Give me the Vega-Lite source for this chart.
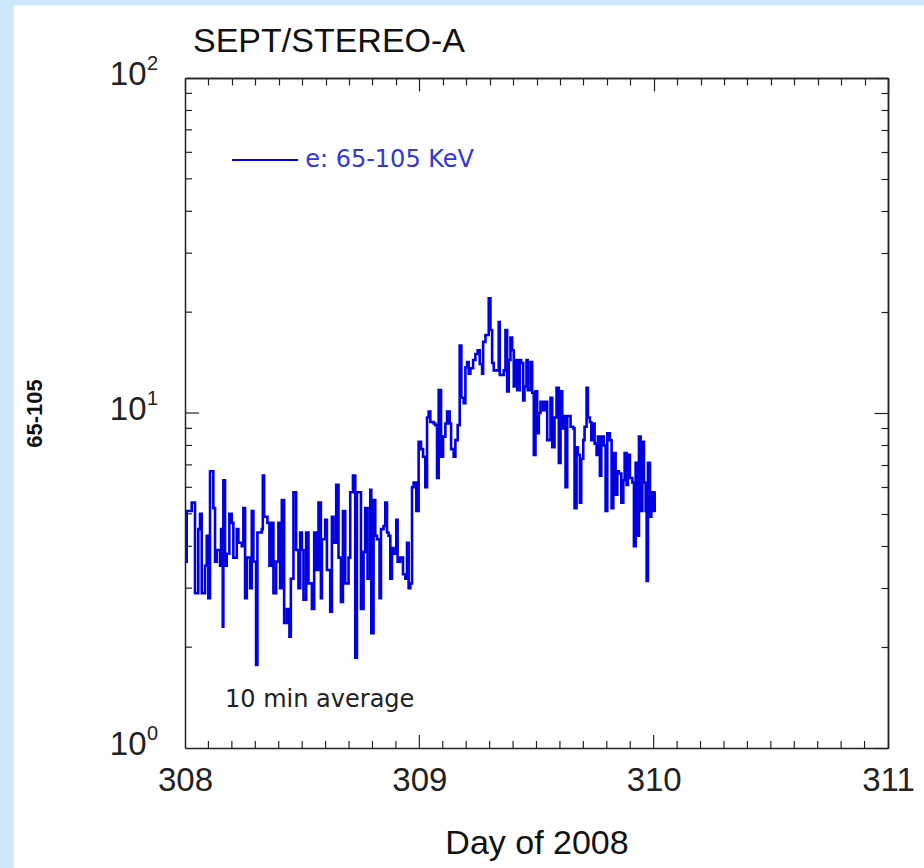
{
  "$schema": "https://vega.github.io/schema/vega-lite/v6.json",
  "width": 703,
  "height": 670,
  "autosize": {"type": "none"},
  "padding": {"left": 185, "top": 78, "right": 36, "bottom": 120},
  "background": "#cde7fc",
  "config": {
    "view": {"stroke": null},
    "axis": {"grid": false, "domainColor": "#222222", "domainWidth": 1.5, "tickColor": "#222222", "tickWidth": 1.2, "labelColor": "#222222", "labelFont": "Liberation Sans", "labelFontSize": 33, "labelOverlap": false, "labelFlush": false, "titleColor": "#111111"}
  },
  "datasets": {
    "flux": [
      {"d": 308.0000, "v": 3.6}, {"d": 308.0073, "v": 5.1}, {"d": 308.0286, "v": 5.4}, {"d": 308.0427, "v": 2.9},
      {"d": 308.0568, "v": 4.5}, {"d": 308.0641, "v": 5.0}, {"d": 308.0714, "v": 2.9}, {"d": 308.0855, "v": 3.5},
      {"d": 308.0927, "v": 4.3}, {"d": 308.0996, "v": 2.8}, {"d": 308.1068, "v": 6.7}, {"d": 308.1209, "v": 5.2},
      {"d": 308.1282, "v": 3.6}, {"d": 308.1355, "v": 3.9}, {"d": 308.1496, "v": 3.5}, {"d": 308.1538, "v": 4.5},
      {"d": 308.1611, "v": 2.3}, {"d": 308.1637, "v": 6.3}, {"d": 308.1709, "v": 3.5}, {"d": 308.1782, "v": 3.8},
      {"d": 308.1893, "v": 5.0}, {"d": 308.1996, "v": 4.7}, {"d": 308.2064, "v": 3.7}, {"d": 308.2209, "v": 4.5},
      {"d": 308.2278, "v": 4.1}, {"d": 308.2423, "v": 4.0}, {"d": 308.2491, "v": 5.2}, {"d": 308.2564, "v": 2.8},
      {"d": 308.2637, "v": 3.7}, {"d": 308.2778, "v": 3.0}, {"d": 308.2850, "v": 5.1}, {"d": 308.2919, "v": 3.6},
      {"d": 308.3034, "v": 1.77}, {"d": 308.3090, "v": 4.4}, {"d": 308.3278, "v": 4.5}, {"d": 308.3321, "v": 6.5},
      {"d": 308.3376, "v": 4.9}, {"d": 308.3517, "v": 4.7}, {"d": 308.3603, "v": 3.5}, {"d": 308.3705, "v": 4.7},
      {"d": 308.3774, "v": 2.9}, {"d": 308.3889, "v": 3.6}, {"d": 308.3987, "v": 4.7}, {"d": 308.4060, "v": 3.0},
      {"d": 308.4132, "v": 5.5}, {"d": 308.4231, "v": 2.36}, {"d": 308.4346, "v": 2.6}, {"d": 308.4457, "v": 2.15},
      {"d": 308.4517, "v": 3.2}, {"d": 308.4628, "v": 5.8}, {"d": 308.4744, "v": 3.9}, {"d": 308.4842, "v": 3.0},
      {"d": 308.4915, "v": 4.4}, {"d": 308.4987, "v": 3.9}, {"d": 308.5056, "v": 2.77}, {"d": 308.5171, "v": 4.4},
      {"d": 308.5269, "v": 3.1}, {"d": 308.5415, "v": 2.6}, {"d": 308.5513, "v": 4.4}, {"d": 308.5598, "v": 3.4},
      {"d": 308.5697, "v": 5.4}, {"d": 308.5799, "v": 2.8}, {"d": 308.5842, "v": 4.2}, {"d": 308.5983, "v": 4.8},
      {"d": 308.6056, "v": 3.4}, {"d": 308.6197, "v": 2.55}, {"d": 308.6269, "v": 4.9}, {"d": 308.6338, "v": 4.1},
      {"d": 308.6453, "v": 6.1}, {"d": 308.6551, "v": 3.7}, {"d": 308.6654, "v": 2.73}, {"d": 308.6739, "v": 5.1},
      {"d": 308.6838, "v": 3.1}, {"d": 308.6979, "v": 3.7}, {"d": 308.7051, "v": 5.8}, {"d": 308.7167, "v": 6.5},
      {"d": 308.7265, "v": 1.86}, {"d": 308.7338, "v": 5.8}, {"d": 308.7509, "v": 2.6}, {"d": 308.7620, "v": 3.85},
      {"d": 308.7692, "v": 5.2}, {"d": 308.7791, "v": 3.2}, {"d": 308.7906, "v": 5.9}, {"d": 308.7949, "v": 2.2},
      {"d": 308.8047, "v": 5.5}, {"d": 308.8120, "v": 4.3}, {"d": 308.8192, "v": 4.2}, {"d": 308.8303, "v": 2.8},
      {"d": 308.8363, "v": 4.5}, {"d": 308.8474, "v": 4.6}, {"d": 308.8547, "v": 5.4}, {"d": 308.8620, "v": 4.4},
      {"d": 308.8688, "v": 4.3}, {"d": 308.8761, "v": 3.2}, {"d": 308.8833, "v": 3.95}, {"d": 308.8902, "v": 3.8},
      {"d": 308.9017, "v": 4.8}, {"d": 308.9073, "v": 3.6}, {"d": 308.9188, "v": 3.7}, {"d": 308.9303, "v": 3.3},
      {"d": 308.9402, "v": 3.2}, {"d": 308.9474, "v": 4.1}, {"d": 308.9543, "v": 3.0}, {"d": 308.9615, "v": 3.1},
      {"d": 308.9688, "v": 6.0}, {"d": 308.9756, "v": 6.2}, {"d": 308.9872, "v": 5.1}, {"d": 308.9970, "v": 8.2},
      {"d": 309.0073, "v": 7.8}, {"d": 309.0158, "v": 7.4}, {"d": 309.0256, "v": 6.0}, {"d": 309.0329, "v": 9.7},
      {"d": 309.0397, "v": 10.1}, {"d": 309.0470, "v": 9.4}, {"d": 309.0611, "v": 9.3}, {"d": 309.0684, "v": 9.2},
      {"d": 309.0756, "v": 6.4}, {"d": 309.0825, "v": 11.7}, {"d": 309.0927, "v": 7.4}, {"d": 309.1013, "v": 8.5},
      {"d": 309.1111, "v": 9.3}, {"d": 309.1184, "v": 10.1}, {"d": 309.1295, "v": 9.3}, {"d": 309.1355, "v": 7.8},
      {"d": 309.1466, "v": 7.4}, {"d": 309.1538, "v": 8.3}, {"d": 309.1637, "v": 9.2}, {"d": 309.1722, "v": 15.9},
      {"d": 309.1795, "v": 11.1}, {"d": 309.1893, "v": 10.7}, {"d": 309.1966, "v": 13.7}, {"d": 309.2038, "v": 14.2},
      {"d": 309.2107, "v": 13.1}, {"d": 309.2179, "v": 13.6}, {"d": 309.2295, "v": 14.4}, {"d": 309.2393, "v": 15.0},
      {"d": 309.2491, "v": 15.4}, {"d": 309.2577, "v": 14.0}, {"d": 309.2679, "v": 13.1}, {"d": 309.2722, "v": 16.3},
      {"d": 309.2821, "v": 17.1}, {"d": 309.2962, "v": 22.0}, {"d": 309.3034, "v": 17.7}, {"d": 309.3107, "v": 14.1},
      {"d": 309.3175, "v": 13.4}, {"d": 309.3389, "v": 18.7}, {"d": 309.3432, "v": 13.0}, {"d": 309.3603, "v": 13.4},
      {"d": 309.3675, "v": 17.7}, {"d": 309.3748, "v": 11.6}, {"d": 309.3816, "v": 14.4}, {"d": 309.3889, "v": 16.8},
      {"d": 309.3962, "v": 15.4}, {"d": 309.4030, "v": 12.0}, {"d": 309.4115, "v": 14.4}, {"d": 309.4175, "v": 11.7},
      {"d": 309.4286, "v": 14.4}, {"d": 309.4346, "v": 14.1}, {"d": 309.4432, "v": 10.9}, {"d": 309.4487, "v": 12.0},
      {"d": 309.4573, "v": 14.4}, {"d": 309.4628, "v": 11.7}, {"d": 309.4744, "v": 14.2}, {"d": 309.4816, "v": 11.5},
      {"d": 309.4885, "v": 7.5}, {"d": 309.4957, "v": 11.6}, {"d": 309.5030, "v": 8.7}, {"d": 309.5098, "v": 10.0},
      {"d": 309.5171, "v": 10.8}, {"d": 309.5286, "v": 10.2}, {"d": 309.5385, "v": 10.8}, {"d": 309.5457, "v": 8.3},
      {"d": 309.5598, "v": 11.1}, {"d": 309.5671, "v": 7.9}, {"d": 309.5769, "v": 9.7}, {"d": 309.5855, "v": 11.9},
      {"d": 309.5953, "v": 7.1}, {"d": 309.6026, "v": 11.6}, {"d": 309.6098, "v": 9.0}, {"d": 309.6167, "v": 9.8},
      {"d": 309.6239, "v": 6.0}, {"d": 309.6312, "v": 9.8}, {"d": 309.6453, "v": 9.1}, {"d": 309.6568, "v": 9.0},
      {"d": 309.6624, "v": 5.2}, {"d": 309.6709, "v": 7.9}, {"d": 309.6765, "v": 7.5}, {"d": 309.6850, "v": 5.4},
      {"d": 309.6910, "v": 7.3}, {"d": 309.6996, "v": 8.3}, {"d": 309.7051, "v": 9.1}, {"d": 309.7137, "v": 11.9},
      {"d": 309.7192, "v": 9.7}, {"d": 309.7278, "v": 9.4}, {"d": 309.7338, "v": 8.3}, {"d": 309.7423, "v": 9.3},
      {"d": 309.7479, "v": 8.1}, {"d": 309.7564, "v": 7.5}, {"d": 309.7620, "v": 8.5}, {"d": 309.7705, "v": 6.5},
      {"d": 309.7765, "v": 8.5}, {"d": 309.7876, "v": 8.0}, {"d": 309.7949, "v": 5.1}, {"d": 309.8021, "v": 8.7},
      {"d": 309.8132, "v": 8.3}, {"d": 309.8205, "v": 5.2}, {"d": 309.8278, "v": 7.6}, {"d": 309.8376, "v": 5.7},
      {"d": 309.8449, "v": 6.7}, {"d": 309.8517, "v": 6.6}, {"d": 309.8620, "v": 5.4}, {"d": 309.8705, "v": 6.3},
      {"d": 309.8761, "v": 7.6}, {"d": 309.8846, "v": 6.1}, {"d": 309.8902, "v": 7.5}, {"d": 309.8987, "v": 6.4},
      {"d": 309.9090, "v": 6.2}, {"d": 309.9158, "v": 4.0}, {"d": 309.9231, "v": 7.1}, {"d": 309.9303, "v": 4.3},
      {"d": 309.9372, "v": 8.5}, {"d": 309.9444, "v": 5.1}, {"d": 309.9517, "v": 8.2}, {"d": 309.9585, "v": 6.2},
      {"d": 309.9658, "v": 5.1}, {"d": 309.9701, "v": 3.15}, {"d": 309.9756, "v": 7.1}, {"d": 309.9842, "v": 4.9},
      {"d": 309.9902, "v": 5.8}, {"d": 309.9987, "v": 5.1}, {"d": 310.0043, "v": 5.8}, {"d": 310.0085, "v": 5.8}
    ],
    "decades": [
      {"v": 1, "e": "0"}, {"v": 10, "e": "1"}, {"v": 100, "e": "2"}
    ],
    "dayTenths": [
      {"t": 308.1}, {"t": 308.2}, {"t": 308.3}, {"t": 308.4}, {"t": 308.5}, {"t": 308.6}, {"t": 308.7}, {"t": 308.8}, {"t": 308.9},
      {"t": 309.1}, {"t": 309.2}, {"t": 309.3}, {"t": 309.4}, {"t": 309.5}, {"t": 309.6}, {"t": 309.7}, {"t": 309.8}, {"t": 309.9},
      {"t": 310.1}, {"t": 310.2}, {"t": 310.3}, {"t": 310.4}, {"t": 310.5}, {"t": 310.6}, {"t": 310.7}, {"t": 310.8}, {"t": 310.9}
    ],
    "logMinor": [
      {"t": 2}, {"t": 3}, {"t": 4}, {"t": 5}, {"t": 6}, {"t": 7}, {"t": 8}, {"t": 9},
      {"t": 20}, {"t": 30}, {"t": 40}, {"t": 50}, {"t": 60}, {"t": 70}, {"t": 80}, {"t": 90}
    ]
  },
  "layer": [
    {
      "data": {"values": [{}]},
      "mark": {"type": "rect", "color": "white"},
      "encoding": {
        "x": {"datum": 307.2692, "type": "quantitative", "scale": {"domain": [308, 311]}, "axis": null},
        "x2": {"datum": 311.6},
        "y": {"datum": 165.1, "type": "quantitative", "scale": {"type": "log", "domain": [1, 100]}, "axis": null},
        "y2": {"datum": 0.3}
      }
    },
    {
      "data": {"name": "dayTenths"},
      "mark": {"type": "rule", "color": "#222222", "strokeWidth": 1.2},
      "encoding": {
        "x": {"field": "t", "type": "quantitative", "axis": null},
        "y": {"datum": 1, "type": "quantitative", "axis": null},
        "y2": {"datum": 1.049}
      }
    },
    {
      "data": {"values": [{"t": 309}, {"t": 310}]},
      "mark": {"type": "rule", "color": "#222222", "strokeWidth": 1.2},
      "encoding": {
        "x": {"field": "t", "type": "quantitative", "axis": null},
        "y": {"datum": 1, "type": "quantitative", "axis": null},
        "y2": {"datum": 1.0934}
      }
    },
    {
      "data": {"name": "logMinor"},
      "mark": {"type": "rule", "color": "#222222", "strokeWidth": 1.2},
      "encoding": {
        "y": {"field": "t", "type": "quantitative", "axis": null},
        "x": {"datum": 308, "type": "quantitative", "axis": null},
        "x2": {"datum": 308.0299}
      }
    },
    {
      "data": {"values": [{"t": 10}]},
      "mark": {"type": "rule", "color": "#222222", "strokeWidth": 1.2},
      "encoding": {
        "y": {"field": "t", "type": "quantitative", "axis": null},
        "x": {"datum": 308, "type": "quantitative", "axis": null},
        "x2": {"datum": 308.0598}
      }
    },
    {
      "data": {"name": "flux"},
      "mark": {"type": "line", "interpolate": "step-after", "color": "#0000e0", "strokeWidth": 2.6},
      "encoding": {
        "x": {
          "field": "d", "type": "quantitative",
          "scale": {"domain": [308, 311]},
          "axis": {
            "orient": "bottom",
            "zindex": 1,
            "values": [308, 309, 310, 311],
            "format": "d",
            "ticks": false,
            "tickSize": 0,
            "labelPadding": 16,
            "title": "Day of 2008",
            "titleFont": "Liberation Sans",
            "titleFontSize": 34,
            "titleFontWeight": "normal",
            "titleY": 105,
            "titleBaseline": "alphabetic"
          }
        },
        "y": {
          "field": "v", "type": "quantitative",
          "scale": {"type": "log", "domain": [1, 100]},
          "axis": {
            "orient": "left",
            "zindex": 1,
            "values": [1, 10, 100],
            "labelExpr": "'10'",
            "ticks": false,
            "tickSize": 0,
            "labelPadding": 39,
            "labelBaseline": "middle",
            "labelOffset": -4,
            "title": "65-105",
            "titleFont": "Liberation Sans",
            "titleFontSize": 22,
            "titleFontWeight": "bold",
            "titleX": -151,
            "titleBaseline": "middle"
          }
        }
      }
    },
    {
      "data": {"values": [{"d0": 308.2009, "d1": 308.4829, "v": 56.9}]},
      "mark": {"type": "rule", "color": "#0000e0", "strokeWidth": 2},
      "encoding": {
        "x": {
          "field": "d0", "type": "quantitative",
          "axis": {
            "orient": "top",
            "zindex": 1,
            "values": [308.1, 308.2, 308.3, 308.4, 308.5, 308.6, 308.7, 308.8, 308.9, 309.1, 309.2, 309.3, 309.4, 309.5, 309.6, 309.7, 309.8, 309.9, 310.1, 310.2, 310.3, 310.4, 310.5, 310.6, 310.7, 310.8, 310.9],
            "labels": false,
            "tickSize": -7,
            "title": null
          }
        },
        "x2": {"field": "d1"},
        "y": {
          "field": "v", "type": "quantitative",
          "axis": {
            "orient": "right",
            "zindex": 1,
            "values": [2, 3, 4, 5, 6, 7, 8, 9, 20, 30, 40, 50, 60, 70, 80, 90],
            "labels": false,
            "tickSize": -7,
            "title": null
          }
        }
      }
    },
    {
      "data": {"values": [
        {"d": 308.5128, "v": 56.9, "label": "e: 65-105 KeV", "kind": "legend"},
        {"d": 308.1709, "v": 1.391, "label": "10 min average", "kind": "note"}
      ]},
      "mark": {"type": "text", "align": "left", "baseline": "middle", "font": "DejaVu Sans", "fontSize": 24},
      "encoding": {
        "x": {"field": "d", "type": "quantitative", "axis": null},
        "y": {"field": "v", "type": "quantitative", "axis": null},
        "text": {"field": "label"},
        "color": {"field": "kind", "type": "nominal", "scale": {"domain": ["legend", "note"], "range": ["#3535dc", "#222222"]}, "legend": null}
      }
    },
    {
      "data": {"name": "decades"},
      "mark": {"type": "text", "align": "left", "baseline": "alphabetic", "dx": -38, "dy": -8, "font": "Liberation Sans", "fontSize": 20, "color": "#222222"},
      "encoding": {
        "x": {"datum": 308, "type": "quantitative", "axis": null},
        "y": {"field": "v", "type": "quantitative", "axis": null},
        "text": {"field": "e"}
      }
    },
    {
      "data": {"values": [{"d": 308, "v": 119.6, "label": "SEPT/STEREO-A"}]},
      "mark": {"type": "text", "align": "left", "baseline": "alphabetic", "dx": 8, "font": "Liberation Sans", "fontSize": 34, "color": "#111111"},
      "encoding": {
        "x": {
          "field": "d", "type": "quantitative",
          "axis": {
            "orient": "top",
            "zindex": 1,
            "values": [308, 309, 310, 311],
            "labels": false,
            "tickSize": -13,
            "title": null
          }
        },
        "y": {
          "field": "v", "type": "quantitative",
          "axis": {
            "orient": "right",
            "zindex": 1,
            "values": [1, 10, 100],
            "labels": false,
            "tickSize": -14,
            "title": null
          }
        },
        "text": {"field": "label"}
      }
    }
  ],
  "resolve": {"axis": {"x": "independent", "y": "independent"}}
}
